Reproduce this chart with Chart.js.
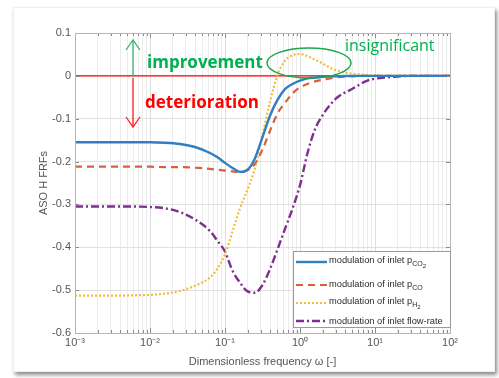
<!DOCTYPE html>
<html>
<head>
<meta charset="utf-8">
<script src="https://cdn.jsdelivr.net/npm/chart.js@4/dist/chart.umd.min.js"></script>
<style>
  html, body { margin: 0; padding: 0; background: #ffffff; }
  body { width: 499px; height: 378px; position: relative; overflow: hidden; font-family: "Liberation Sans", Arial, sans-serif; }
  #card { position: absolute; left: 13px; top: 7px; width: 482px; height: 365px; background: #fff;
          box-shadow: 2px 3px 4px rgba(0,0,0,0.45); border: 1px solid #eee; box-sizing: border-box; }
  #wrap { position: absolute; left: 0; top: 0; width: 499px; height: 378px; }
  canvas { position: absolute; left: 0; top: 0; }
  #overlay { position: absolute; left: 0; top: 0; width: 499px; height: 378px; pointer-events: none; }
  .note { position: absolute; white-space: nowrap; font-family: "Open Sans", "DejaVu Sans", sans-serif; line-height: 1; }
  #legend { position: absolute; left: 293px; top: 251px; width: 158px; height: 77px; background: #fff;
            border: 1px solid #9a9a9a; box-sizing: border-box; font-size: 9.3px; color: #2a2a2a; }
  .li { position: absolute; left: 1px; height: 18px; display: flex; align-items: center; white-space: nowrap; }
  .li svg { width: 33px; height: 6px; margin-right: 1px; }
  sub { font-size: 7px; vertical-align: -3px; }
  sub sub { font-size: 6px; vertical-align: -2px; }
</style>
</head>
<body>
<div id="card"></div>
<div id="wrap"><canvas id="c" width="499" height="378"></canvas></div>
<svg id="overlay" width="499" height="378">
  <!-- improvement arrow -->
  <line x1="133" y1="77" x2="133" y2="41" stroke="#3cb371" stroke-width="1.3"/>
  <polyline points="126,50 133,40 140,50" fill="none" stroke="#3cb371" stroke-width="1.3"/>
  <!-- deterioration arrow -->
  <line x1="133" y1="78" x2="133" y2="127" stroke="#ff2020" stroke-width="1.3"/>
  <polyline points="126,117 133,127 140,117" fill="none" stroke="#ff2020" stroke-width="1.3"/>
  <!-- insignificant ellipse -->
  <ellipse cx="309" cy="63" rx="42" ry="15" fill="none" stroke="#1aa84a" stroke-width="1.5"/>
</svg>
<div class="note" style="left:147px; top:53px; font-size:17px; font-weight:bold; color:#00b050;">improvement</div>
<div class="note" style="left:145px; top:93px; font-size:17px; font-weight:bold; color:#ff0000;">deterioration</div>
<div class="note" style="left:345px; top:37px; font-size:16px; color:#00b050;">insignificant</div>
<div id="legend"></div>
<script>
// ---- data ----
const omega = [0.001, 0.00316, 0.00631, 0.01, 0.0158, 0.0251, 0.0398, 0.0631, 0.0794, 0.1,
               0.126, 0.158, 0.2, 0.251, 0.316, 0.398, 0.501, 0.631, 0.794, 1,
               1.26, 1.58, 2, 2.51, 3.16, 5.01, 7.94, 15.8, 31.6, 100];
const pCO2 = [-0.155,-0.155,-0.155,-0.155,-0.156,-0.159,-0.166,-0.180,-0.190,-0.203,
              -0.215,-0.224,-0.219,-0.192,-0.143,-0.093,-0.056,-0.031,-0.019,-0.011,
              -0.006,-0.004,-0.002,-0.001,-0.001,0,0,0,0,0];
const pCO  = [-0.212,-0.212,-0.212,-0.212,-0.213,-0.213,-0.214,-0.217,-0.219,-0.221,
              -0.223,-0.225,-0.220,-0.205,-0.172,-0.128,-0.088,-0.063,-0.041,-0.027,
              -0.019,-0.013,-0.009,-0.006,-0.003,-0.001,0,0,0,0];
const pH2  = [-0.513,-0.513,-0.512,-0.511,-0.508,-0.502,-0.490,-0.470,-0.450,-0.416,
              -0.363,-0.310,-0.265,-0.215,-0.138,-0.061,0.002,0.035,0.048,0.051,
              0.046,0.038,0.029,0.019,0.012,0.005,0.002,0,0,0];
const flowRate = [-0.305,-0.305,-0.305,-0.306,-0.309,-0.318,-0.335,-0.362,-0.385,-0.410,
                  -0.455,-0.482,-0.503,-0.506,-0.488,-0.451,-0.405,-0.357,-0.310,-0.255,
                  -0.180,-0.125,-0.092,-0.068,-0.050,-0.030,-0.011,-0.003,0,0];
const xDecades = [0.001, 0.01, 0.1, 1, 10, 100];
const xDecadeLabels = ['10\u207B\u00B3', '10\u207B\u00B2', '10\u207B\u00B9', '10\u2070', '10\u00B9', '10\u00B2'];
const seriesLabels = [
  'modulation of inlet p<sub>CO<sub>2</sub></sub>',
  'modulation of inlet p<sub>CO</sub>',
  'modulation of inlet p<sub>H<sub>2</sub></sub>',
  'modulation of inlet flow-rate'
];
const zeroLine = [0, 0];

function pts(arr) { return omega.map((w, i) => ({ x: w, y: arr[i] })); }

// minor + major log ticks
const logTicks = [];
for (let e = -3; e < 2; e++) for (let s = 1; s <= 9; s++) logTicks.push(Number((s * Math.pow(10, e)).toPrecision(3)));
logTicks.push(100);
const isDecade = v => xDecades.some(d => Math.abs(v - d) / d < 1e-6);

const styles = [
  { color: '#2f7fc1', width: 2.4, dash: [] },
  { color: '#d9603b', width: 2.2, dash: [7, 5] },
  { color: '#f0be3c', width: 2.2, dash: [2, 2] },
  { color: '#7e2f8e', width: 2.4, dash: [8, 3, 2, 3] }
];
const seriesData = [pCO2, pCO, pH2, flowRate];

const datasets = seriesData.map((arr, i) => ({
  label: seriesLabels[i],
  data: pts(arr),
  borderColor: styles[i].color,
  backgroundColor: styles[i].color,
  borderWidth: styles[i].width,
  borderDash: styles[i].dash,
  pointRadius: 0,
  cubicInterpolationMode: 'monotone',
  fill: false
}));
datasets.unshift({
  label: 'zero',
  data: [{ x: xDecades[0], y: zeroLine[0] }, { x: xDecades[5], y: zeroLine[1] }],
  borderColor: '#ff0000', borderWidth: 1.2, pointRadius: 0, tension: 0, order: 10
});

const frame = {
  id: 'frame',
  afterDatasetsDraw(chart) {
    const { ctx, chartArea: a, scales } = chart;
    ctx.save();
    ctx.strokeStyle = '#8a8a8a';
    ctx.lineWidth = 1;
    ctx.beginPath();
    logTicks.forEach(v => {
      const x = Math.round(scales.x.getPixelForValue(v)) + 0.5;
      const len = isDecade(v) ? 5 : 3;
      ctx.moveTo(x, a.bottom); ctx.lineTo(x, a.bottom - len);
      ctx.moveTo(x, a.top); ctx.lineTo(x, a.top + len);
    });
    for (let k = 0; k <= 7; k++) {
      const y = Math.round(scales.y.getPixelForValue(0.1 - k * 0.1)) + 0.5;
      ctx.moveTo(a.left, y); ctx.lineTo(a.left + 4, y);
      ctx.moveTo(a.right, y); ctx.lineTo(a.right - 4, y);
    }
    ctx.stroke();
    ctx.strokeStyle = '#b5b5b5';
    ctx.strokeRect(Math.round(a.left) + 0.5, Math.round(a.top) + 0.5, Math.round(a.right - a.left), Math.round(a.bottom - a.top));
    ctx.restore();
  }
};

const chart = new Chart(document.getElementById('c'), {
  type: 'line',
  data: { datasets },
  plugins: [frame],
  options: {
    responsive: false,
    animation: false,
    layout: { padding: { left: 33, right: 49, top: 33, bottom: 5 } },
    plugins: { legend: { display: false }, tooltip: { enabled: false } },
    scales: {
      x: {
        type: 'logarithmic', min: 0.001, max: 100,
        afterBuildTicks(scale) { scale.ticks = logTicks.map(v => ({ value: v, major: isDecade(v) })); },
        afterFit(scale) { scale.height = 40; },
        ticks: {
          autoSkip: false, maxRotation: 0, padding: 3, color: '#555',
          font: { family: 'Liberation Sans', size: 11 },
          callback(v) { const i = xDecades.findIndex(d => Math.abs(v - d) / d < 1e-6); return i >= 0 ? xDecadeLabels[i] : ''; }
        },
        grid: { drawTicks: false, color: ctx => (ctx.tick && isDecade(ctx.tick.value)) ? '#dedede' : '#ececec', lineWidth: 1 },
        border: { display: true, color: '#6e6e6e' },
        title: { display: true, text: 'Dimensionless frequency \u03C9 [-]', color: '#555', font: { family: 'Liberation Sans', size: 11 }, padding: { top: 2, bottom: 4 } }
      },
      y: {
        type: 'linear', min: -0.6, max: 0.1,
        afterFit(scale) { scale.width = 42; },
        ticks: { stepSize: 0.1, padding: 4, color: '#555', font: { family: 'Liberation Sans', size: 11 },
                 callback: v => String(Number(v.toFixed(1))) },
        grid: { drawTicks: false, color: '#e0e0e0' },
        border: { display: true, color: '#6e6e6e' },
        title: { display: true, text: 'ASO H FRFs', color: '#555', font: { family: 'Liberation Sans', size: 11 }, padding: { top: 4, bottom: 4 } }
      }
    }
  }
});

// HTML legend built from the chart datasets
const legend = document.getElementById('legend');
const rowTops = [1, 24, 42, 60];
chart.data.datasets.slice(1).forEach((ds, i) => {
  const row = document.createElement('div');
  row.className = 'li';
  row.style.top = rowTops[i] + 'px';
  const dash = (ds.borderDash || []).join(',');
  row.innerHTML = '<svg viewBox="0 0 33 6"><line x1="1" y1="3" x2="32" y2="3" stroke="' + ds.borderColor +
    '" stroke-width="' + ds.borderWidth + '"' + (dash ? ' stroke-dasharray="' + dash + '"' : '') + '/></svg><span>' + ds.label + '</span>';
  legend.appendChild(row);
});
</script>
</body>
</html>
